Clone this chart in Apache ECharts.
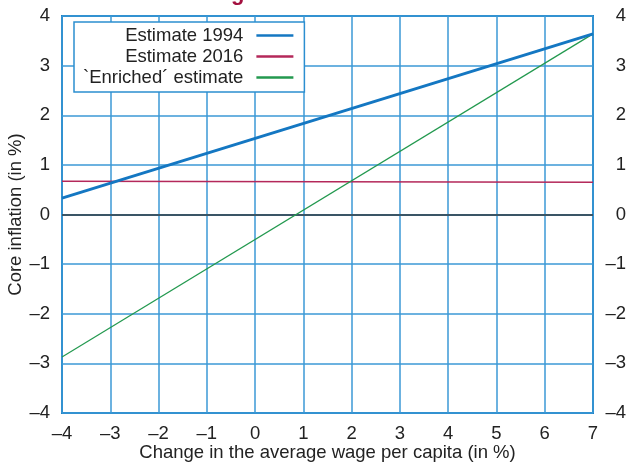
<!DOCTYPE html>
<html>
<head>
<meta charset="utf-8">
<script src="https://cdn.jsdelivr.net/npm/echarts@6/dist/echarts.min.js"></script>
<style>
  html, body { margin: 0; padding: 0; background: #fff; }
  #chart { width: 627px; height: 464px; }
</style>
</head>
<body>
<div id="chart"></div>
<script>
// x range of the estimated lines (change in average wage, %)
const xPoints = [-4, 7];
// core inflation at each end of the range (%)
const est1994 = [0.33, 3.64];
const est2016 = [0.67, 0.65];
const enriched = [-2.87, 3.64];
const seriesNames = ["Estimate 1994", "Estimate 2016", "`Enriched\u00b4 estimate"];

const font = "Liberation Sans";
const fs = 18.5;
const gridBlue = "#3b98d6";
const fmt = v => String(v).replace("-", "\u2013");
const pairs = ys => xPoints.map((x, i) => [x, ys[i]]);

const chart = echarts.init(document.getElementById("chart"), null, { renderer: "canvas" });

chart.setOption({
  animation: false,
  textStyle: { fontFamily: font },
  graphic: [
    {
      type: "text",
      left: 231,
      top: -17,
      style: { text: "g", fill: "#a3103f", font: "bold 22px " + font }
    }
  ],
  grid: {
    left: 62, right: 34, top: 16, bottom: 51,
    outerBoundsMode: "none",
    containLabel: false,
    show: true,
    borderColor: "#1e7fc4",
    borderWidth: 2,
    backgroundColor: "#fff"
  },
  legend: {
    orient: "vertical",
    left: 74,
    top: 22,
    align: "right",
    icon: "rect",
    backgroundColor: "#fff",
    borderColor: "#2b8ed0",
    borderWidth: 1.5,
    borderRadius: 0,
    padding: [4, 11, 5, 9],
    itemWidth: 37,
    itemHeight: 2.5,
    itemGap: 2,
    textStyle: { fontSize: fs, color: "#222", fontFamily: font, padding: [0, 8, 0, 0] },
    data: seriesNames
  },
  xAxis: {
    type: "value",
    min: -4, max: 7, interval: 1,
    name: "Change in the average wage per capita (in %)",
    nameLocation: "middle",
    nameGap: 30,
    nameMoveOverlap: false,
    nameTextStyle: { fontSize: fs, color: "#222" },
    axisLine: { show: false },
    axisTick: { show: false },
    axisLabel: { fontSize: fs, color: "#222", margin: 11, formatter: fmt },
    splitLine: { show: true, lineStyle: { color: gridBlue, width: 1.5 } }
  },
  yAxis: [
    {
      type: "value",
      min: -4, max: 4, interval: 1,
      name: "Core inflation (in %)",
      nameLocation: "middle",
      nameGap: 37,
      nameMoveOverlap: false,
      nameTextStyle: { fontSize: fs, color: "#222" },
      axisLine: { show: false },
      axisTick: { show: false },
      axisLabel: { fontSize: fs, color: "#222", margin: 12, formatter: fmt },
      splitLine: { show: true, lineStyle: { color: gridBlue, width: 1.5 } }
    },
    {
      type: "value",
      position: "right",
      min: -4, max: 4, interval: 1,
      axisLine: { show: false },
      axisTick: { show: false },
      axisLabel: { fontSize: fs, color: "#222", margin: 33, align: "right", formatter: fmt },
      splitLine: { show: false }
    }
  ],
  series: [
    {
      name: seriesNames[0],
      type: "line",
      symbol: "none",
      data: pairs(est1994),
      lineStyle: { color: "#1477c2", width: 3 },
      itemStyle: { color: "#1477c2" },
      z: 4,
      markLine: {
        silent: true,
        symbol: "none",
        label: { show: false },
        lineStyle: { color: "#3a5566", width: 2, type: "solid" },
        data: [{ yAxis: 0 }],
        z: 1
      }
    },
    {
      name: seriesNames[1],
      type: "line",
      symbol: "none",
      data: pairs(est2016),
      lineStyle: { color: "#b4285a", width: 1.5 },
      itemStyle: { color: "#b4285a" },
      z: 3
    },
    {
      name: seriesNames[2],
      type: "line",
      symbol: "none",
      data: pairs(enriched),
      lineStyle: { color: "#23994f", width: 1.2 },
      itemStyle: { color: "#23994f" },
      z: 3
    }
  ]
});
</script>
</body>
</html>
